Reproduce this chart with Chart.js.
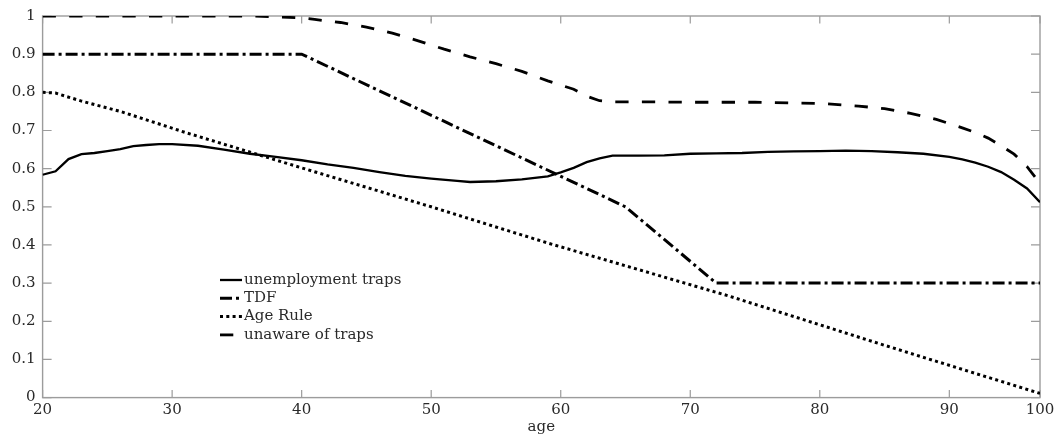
<!DOCTYPE html>
<html>
<head>
<meta charset="utf-8">
<script src="https://cdn.jsdelivr.net/npm/chart.js@4/dist/chart.umd.min.js"></script>
<style>
  html, body { margin: 0; padding: 0; background: #ffffff; }
  #wrap { width: 1062px; height: 440px; }
</style>
</head>
<body>
<div id="wrap"><canvas id="c" width="1062" height="440"></canvas></div>
<script>
// ---- data ----
const trapAges = [20,21,22,23,24,25,26,27,28,29,30,32,34,36,38,40,42,44,46,48,50,52,53,55,57,59,60,61,62,63,64,66,68,70,72,74,76,78,80,82,84,86,88,90,91,92,93,94,95,96,97];
const trapValues = [0.584,0.593,0.625,0.638,0.641,0.646,0.651,0.659,0.662,0.664,0.664,0.660,0.650,0.639,0.631,0.622,0.611,0.602,0.591,0.581,0.574,0.568,0.565,0.567,0.572,0.580,0.590,0.602,0.617,0.627,0.634,0.634,0.635,0.639,0.640,0.641,0.644,0.645,0.646,0.647,0.646,0.643,0.639,0.631,0.624,0.616,0.605,0.591,0.571,0.548,0.512];

const tdfAges = [20,40,65,72,97];
const tdfValues = [0.9,0.9,0.5,0.3,0.3];

const ageRuleAges = [20,21,23,26,31,40,50,59,73,85,97];
const ageRuleValues = [0.800,0.798,0.777,0.750,0.695,0.602,0.500,0.405,0.266,0.137,0.011];

const unawareAges = [20,30,36,38,40,41,43,45,47,49,51,53,55,57,59,61,62,63,64,67,70,75,80,83,85,87,89,91,92,93,94,95,96,97];
const unawareValues = [1.000,1.000,1.000,0.998,0.995,0.991,0.983,0.971,0.955,0.935,0.913,0.893,0.875,0.855,0.830,0.808,0.790,0.778,0.775,0.775,0.774,0.774,0.771,0.764,0.757,0.745,0.729,0.707,0.695,0.680,0.660,0.638,0.605,0.562];

const seriesNames = ['unemployment traps','TDF','Age Rule','unaware of traps'];

const xTickValues = [20,30,40,50,60,70,80,90,97];
const xTickLabels = ['20','30','40','50','60','70','80','90','100'];
const yTickValues = [0,0.1,0.2,0.3,0.4,0.5,0.6,0.7,0.8,0.9,1];
const yTickLabels = ['0','0.1','0.2','0.3','0.4','0.5','0.6','0.7','0.8','0.9','1'];

const pts = (xs, ys) => xs.map((x, i) => ({ x: x, y: ys[i] }));

const FONT = "'DejaVu Serif', 'Liberation Serif', serif";
const AXIS_GREY = '#9c9c9c';
const TEXT_COLOR = '#2a2a2a';

// frame with inward ticks on all four sides
const framePlugin = {
  id: 'frame',
  beforeDatasetsDraw(chart) {
    const { ctx, chartArea: a, scales } = chart;
    ctx.save();
    ctx.strokeStyle = AXIS_GREY;
    ctx.lineWidth = 1.4;
    ctx.strokeRect(a.left, a.top, a.right - a.left, a.bottom - a.top);
    ctx.lineWidth = 1.2;
    ctx.beginPath();
    scales.x.ticks.forEach(t => {
      const px = scales.x.getPixelForValue(t.value);
      ctx.moveTo(px, a.bottom); ctx.lineTo(px, a.bottom - 7.5);
      ctx.moveTo(px, a.top); ctx.lineTo(px, a.top + 7.5);
    });
    scales.y.ticks.forEach(t => {
      const py = scales.y.getPixelForValue(t.value);
      ctx.moveTo(a.left, py); ctx.lineTo(a.left + 9, py);
      ctx.moveTo(a.right, py); ctx.lineTo(a.right - 9, py);
    });
    ctx.stroke();
    ctx.restore();
  }
};

// legend drawn inside the plot area
const legendPlugin = {
  id: 'innerLegend',
  afterDatasetsDraw(chart) {
    const { ctx } = chart;
    const x0 = 220, sampleLen = 22, textX = 244, y0 = 280, step = 18.3;
    ctx.save();
    chart.data.datasets.forEach((ds, i) => {
      const y = y0 + i * step;
      ctx.strokeStyle = ds.borderColor;
      ctx.lineWidth = ds.borderWidth;
      ctx.lineCap = 'butt';
      ctx.setLineDash(ds.borderDash || []);
      ctx.beginPath();
      ctx.moveTo(x0, y); ctx.lineTo(x0 + sampleLen, y);
      ctx.stroke();
      ctx.setLineDash([]);
      ctx.fillStyle = TEXT_COLOR;
      ctx.font = "15px " + FONT;
      ctx.textAlign = 'left';
      ctx.textBaseline = 'middle';
      ctx.fillText(ds.label, textX, y);
    });
    ctx.restore();
  }
};

new Chart(document.getElementById('c'), {
  type: 'line',
  data: {
    datasets: [
      { label: seriesNames[0], data: pts(trapAges, trapValues), borderColor: '#000', borderWidth: 2.3, borderDash: [], pointRadius: 0, tension: 0 },
      { label: seriesNames[1], data: pts(tdfAges, tdfValues), borderColor: '#000', borderWidth: 3, borderDash: [12, 4, 3, 4], pointRadius: 0, tension: 0 },
      { label: seriesNames[2], data: pts(ageRuleAges, ageRuleValues), borderColor: '#000', borderWidth: 3, borderDash: [3, 3.3], pointRadius: 0, tension: 0 },
      { label: seriesNames[3], data: pts(unawareAges, unawareValues), borderColor: '#000', borderWidth: 2.8, borderDash: [13.3, 13.3], pointRadius: 0, tension: 0 }
    ]
  },
  options: {
    responsive: false,
    animation: false,
    events: [],
    layout: { padding: { left: 0, right: 22, top: 16, bottom: 0 } },
    plugins: { legend: { display: false }, tooltip: { enabled: false } },
    scales: {
      x: {
        type: 'linear',
        min: 20, max: 97,
        grid: { display: false, drawTicks: false },
        border: { display: false },
        afterBuildTicks(scale) { scale.ticks = xTickValues.map(v => ({ value: v })); },
        afterFit(scale) { scale.height = 42.4; },
        ticks: {
          color: TEXT_COLOR,
          font: { family: FONT, size: 15 },
          padding: 4,
          maxRotation: 0,
          autoSkip: false,
          callback: (v, i) => xTickLabels[i]
        },
        title: {
          display: true,
          text: 'age',
          color: TEXT_COLOR,
          font: { family: FONT, size: 15 },
          padding: { top: 0, bottom: 4 }
        }
      },
      y: {
        type: 'linear',
        min: 0, max: 1,
        grid: { display: false, drawTicks: false },
        border: { display: false },
        afterBuildTicks(scale) { scale.ticks = yTickValues.map(v => ({ value: v })); },
        afterFit(scale) { scale.width = 42.6; },
        ticks: {
          color: TEXT_COLOR,
          font: { family: FONT, size: 15 },
          padding: 7,
          autoSkip: false,
          callback: (v, i) => yTickLabels[i]
        }
      }
    }
  },
  plugins: [framePlugin, legendPlugin]
});
</script>
</body>
</html>
